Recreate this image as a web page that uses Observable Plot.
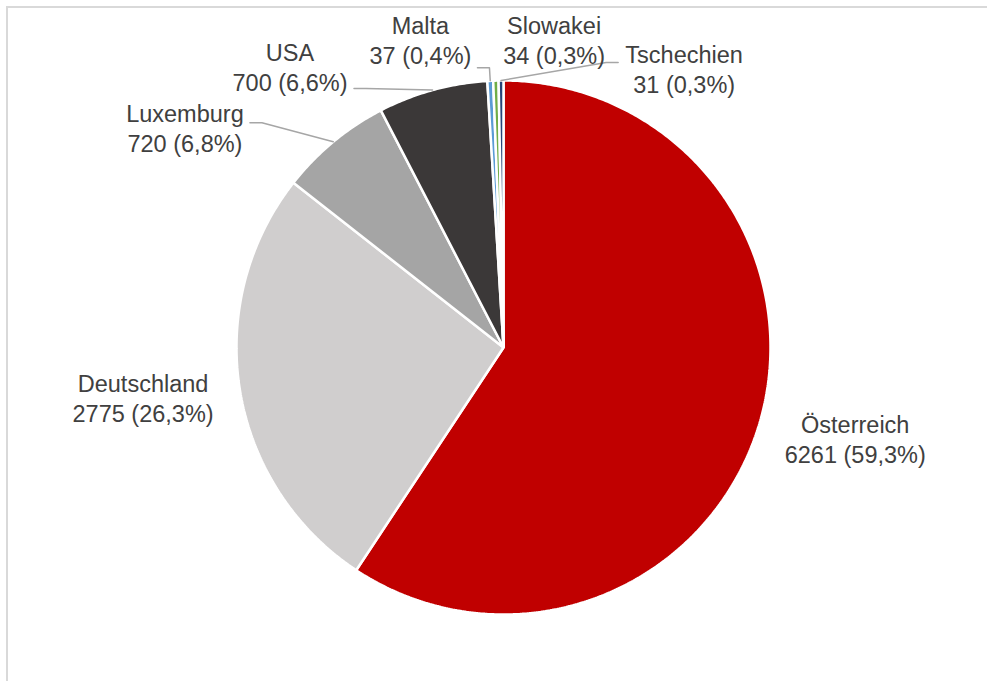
<!DOCTYPE html>
<html><head><meta charset="utf-8">
<script src="https://cdn.jsdelivr.net/npm/d3@7"></script>
<script src="https://cdn.jsdelivr.net/npm/@observablehq/plot@0.6"></script>
<style>
html,body{margin:0;padding:0;background:#fff;overflow:hidden}
#chart{position:absolute;left:0;top:0}
#frame{position:absolute;left:6px;top:6px;width:1000px;height:700px;border:2px solid #d9d9d9;box-sizing:border-box;pointer-events:none}
</style></head><body>
<div id="chart"></div><div id="frame"></div>
<script>
// ---- data ----
const countries = ["Österreich", "Deutschland", "Luxemburg", "USA", "Malta", "Slowakei", "Tschechien"];
const values = [6261, 2775, 720, 700, 37, 34, 31];
const colors = ["#C00000", "#D0CECE", "#A5A5A5", "#3B3838", "#5B9BD5", "#70AD47", "#264478"];

// ---- layout ----
const W = 987, H = 681, CX = 503, CY = 347, R = 267;
const labelRadius = 1.36;
// label nudges from the default polar position (px)
const labelNudge = {
  "Österreich": [4, -14], "Deutschland": [-2, -8], "Luxemburg": [-87, 60],
  "USA": [-117, 69], "Malta": [-65, 55], "Slowakei": [61, 55], "Tschechien": [184, 84]
};
// leader line end relative to label centre (px); none for the others
const leaderEnd = {
  "Luxemburg": [65, -5], "USA": [64, 22], "Malta": [57, 28], "Tschechien": [-66, -6]
};

const total = d3.sum(values);
const arcs = d3.pie().sort(null).startAngle(0).endAngle(2 * Math.PI)(values);
const slices = countries.map((name, i) => ({
  name, value: values[i], color: colors[i],
  a0: arcs[i].startAngle, a1: arcs[i].endAngle,
  mid: (arcs[i].startAngle + arcs[i].endAngle) / 2
}));

// slice polygons
const poly = [];
for (const s of slices) {
  poly.push({name: s.name, color: s.color, x: 0, y: 0});
  const n = Math.max(2, Math.ceil((s.a1 - s.a0) / (Math.PI / 360)));
  for (let k = 0; k <= n; k++) {
    const a = s.a0 + (s.a1 - s.a0) * k / n;
    poly.push({name: s.name, color: s.color, x: Math.sin(a), y: Math.cos(a)});
  }
}

// labels
const fmtPct = v => (v / total * 100).toFixed(1).replace(".", ",");
const labels = slices.map(s => {
  const [nx, ny] = labelNudge[s.name];
  return {
    name: s.name,
    text: `${s.name}\n${s.value} (${fmtPct(s.value)}%)`,
    x: Math.sin(s.mid) * labelRadius + nx / R,
    y: Math.cos(s.mid) * labelRadius - ny / R,
    mid: s.mid
  };
});

// leader lines
const leaders = [];
for (const l of labels) {
  const e = leaderEnd[l.name];
  if (!e) continue;
  const sx = Math.sin(l.mid), sy = Math.cos(l.mid);
  const ex = l.x + e[0] / R, ey = l.y - e[1] / R;
  const dir = Math.sign(sx - ex);
  leaders.push({name: l.name, x: ex, y: ey});
  leaders.push({name: l.name, x: ex + dir * 12 / R, y: ey});
  leaders.push({name: l.name, x: sx, y: sy});
}

const chart = Plot.plot({
  width: W, height: H, margin: 0,
  x: {domain: [-CX / R, (W - CX) / R], axis: null},
  y: {domain: [-(H - CY) / R, CY / R], axis: null},
  color: {type: "identity"},
  style: {fontFamily: "Arial, 'Liberation Sans', sans-serif", background: "transparent"},
  marks: [
    Plot.line(poly, {x: "x", y: "y", z: "name", fill: "color", stroke: "white", strokeWidth: 2.5, curve: "linear-closed", strokeLinejoin: "miter"}),
    Plot.line(leaders, {x: "x", y: "y", z: "name", stroke: "#A6A6A6", strokeWidth: 1.5}),
    Plot.text(labels, {x: "x", y: "y", text: "text", fontSize: 23.5, fill: "#404040", lineHeight: 1.28, textAnchor: "middle", lineAnchor: "middle"})
  ]
});
document.getElementById("chart").append(chart);
</script>
</body></html>
